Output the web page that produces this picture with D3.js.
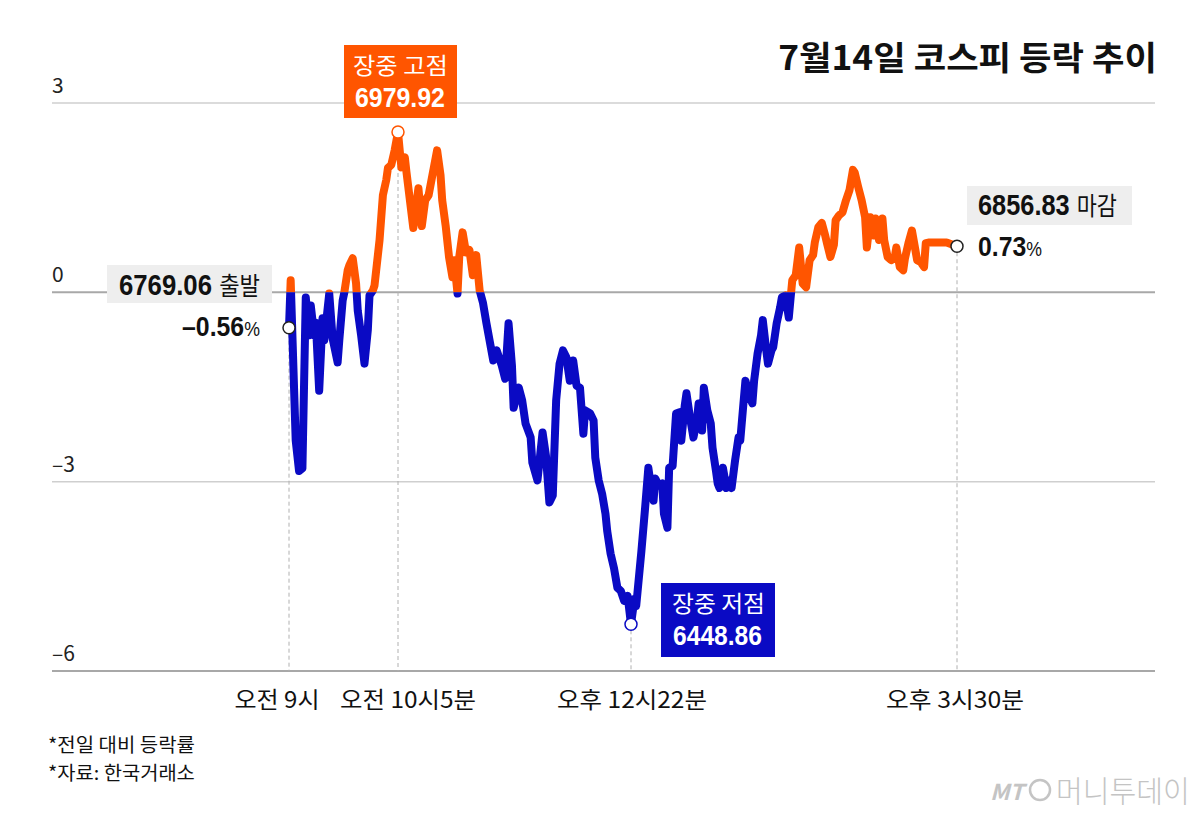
<!DOCTYPE html>
<html>
<head>
<meta charset="utf-8">
<title>7월14일 코스피 등락 추이</title>
<style>
  body, html {
    margin: 0;
    padding: 0;
    background: #fff;
  }
  svg text {
    font-family: "Noto Sans CJK KR", "Noto Sans", sans-serif;
  }
</style>
</head>
<body>
<svg id="chart" width="1204" height="814"></svg>

<script src="https://d3js.org/d3.v7.min.js"></script>
<script>
  // minutes since 09:00, change vs previous close (%)
  const minutes = [
    0, 1, 4, 6, 8, 10, 12, 13, 15, 16, 18, 20, 21, 24, 26, 29, 30, 32, 33, 35,
    36, 38, 40, 41, 43, 45, 47, 48, 50, 51, 54, 56, 58, 59, 61, 63, 65, 66, 67, 69,
    70, 72, 74, 77, 79, 81, 83, 88, 90, 91, 93, 95, 97, 98, 100, 101, 103, 105, 107, 109,
    111, 113, 115, 117, 121, 123, 126, 128, 130, 132, 133, 136, 138, 140, 143, 144, 147, 150, 152, 154,
    156, 158, 160, 162, 164, 166, 168, 170, 172, 174, 175, 178, 180, 181, 183, 185, 187, 188, 190, 192,
    194, 196, 198, 200, 202, 204, 205, 208, 210, 212, 213, 215, 216, 218, 220, 221, 223, 224, 226, 228,
    230, 231, 233, 234, 236, 238, 240, 241, 243, 244, 246, 248, 249, 251, 252, 253, 255, 257, 258, 260,
    262, 264, 265, 267, 268, 270, 272, 273, 275, 277, 278, 280, 281, 283, 284, 286, 288, 289, 291, 293,
    294, 295, 297, 299, 301, 303, 305, 307, 308, 310, 312, 314, 315, 317, 319, 320, 322, 324, 326, 328,
    330, 331, 333, 335, 337, 338, 340, 342, 343, 345, 347, 348, 350, 352, 354, 355, 357, 359, 360, 362,
    364, 366, 367, 369, 371, 372, 374, 379, 384, 390
  ]
  const change = [
    -0.56, 0.19, -2.35, -2.83, -2.79, -0.08, -0.68, -0.21, -0.68, -0.48, -1.56, -0.41, -0.76, -0.02, -0.73, -1.11, -0.76, -0.13, 0.00, 0.35,
    0.43, 0.54, 0.14, -0.29, -0.68, -1.13, -0.60, -0.05, 0.03, 0.11, 0.83, 1.54, 1.78, 1.97, 2.02, 2.25, 2.54, 2.25, 1.98, 2.14,
    1.90, 1.46, 1.02, 1.65, 1.05, 1.46, 1.54, 2.25, 1.86, 1.46, 1.06, 0.56, 0.24, 0.51, -0.02, 0.56, 0.95, 0.63, 0.67, 0.27,
    0.59, 0.03, -0.17, -0.49, -1.08, -0.92, -1.16, -1.37, -0.49, -1.16, -1.83, -1.51, -1.71, -2.08, -2.30, -2.70, -2.98, -2.22, -2.59, -3.33,
    -3.22, -1.71, -1.13, -0.92, -1.03, -1.40, -1.08, -1.48, -1.51, -2.24, -1.87, -1.92, -2.03, -2.62, -2.98, -3.19, -3.51, -3.78, -4.14, -4.37,
    -4.68, -4.73, -4.89, -4.81, -5.26, -4.86, -4.97, -4.10, -3.46, -2.78, -2.98, -3.30, -2.95, -3.06, -3.03, -3.51, -3.73, -2.78, -2.75, -1.92,
    -1.90, -2.35, -1.79, -1.60, -1.98, -2.30, -2.03, -1.76, -2.19, -1.51, -1.87, -2.08, -2.46, -2.83, -3.03, -3.10, -2.78, -3.10, -2.98, -3.10,
    -2.67, -2.30, -2.35, -1.71, -1.40, -1.63, -1.76, -1.40, -0.97, -0.68, -0.44, -0.92, -1.13, -0.92, -0.87, -0.49, -0.24, -0.08, -0.05, -0.40,
    -0.10, 0.19, 0.27, 0.71, 0.14, 0.08, 0.51, 0.59, 0.79, 1.03, 1.10, 0.90, 0.78, 0.56, 0.75, 1.14, 1.22, 1.27, 1.46, 1.62,
    1.94, 1.90, 1.67, 1.46, 1.19, 0.71, 1.19, 0.90, 1.17, 0.83, 1.17, 0.83, 0.56, 0.51, 0.54, 0.71, 0.40, 0.35, 0.54, 0.78,
    0.98, 0.67, 0.51, 0.48, 0.40, 0.78, 0.79, 0.79, 0.79, 0.73
  ]

  const yTicks = [3, 0, -3, -6]
  const xTickMinutes = [0, 65, 202, 390]
  const xTickLabels = ['오전 9시', '오전 10시5분', '오후 12시22분', '오후 3시30분']

  // marked points: open, intraday high, intraday low, close
  const markMinutes = [0, 65, 202, 390]
  const markChange = [-0.56, 2.54, -5.26, 0.73]
  const markIndex = ['6769.06', '6979.92', '6448.86', '6856.83']

  const notes = ['*전일 대비 등락률', '*자료: 한국거래소']

  const ORANGE = '#ff5500'
  const BLUE = '#0a0ac4'
  const NUM = '"Liberation Sans", Arial, sans-serif'

  const svg = d3.select('#chart')

  const x = d3.scaleLinear()
    .domain(xTickMinutes)
    .range([289, 398, 631, 957])

  const y = d3.scaleLinear()
    .domain([-6, 3])
    .range([671, 103])

  const data = minutes.map((m, i) => ({ m: m, v: change[i] }))
  const marks = markMinutes.map((m, i) => ({ m: m, v: markChange[i], idx: markIndex[i] }))

  // condensed text: [string, size, weight, family] parts, squeezed horizontally to a width
  function txt(g, px, py, parts, fill, width, anchor) {
    const t = g.append('text')
      .attr('x', 0)
      .attr('y', 0)
      .attr('fill', fill)
      .attr('text-anchor', anchor || 'start')
    parts.forEach(p => {
      const s = t.append('tspan')
        .attr('font-size', p[1])
        .attr('font-weight', p[2])
        .text(p[0])
      if (p[3]) s.style('font-family', p[3])
    })
    const k = width ? width / t.node().getComputedTextLength() : 1
    t.attr('transform', `translate(${px},${py}) scale(${k},1)`)
    return t
  }

  // gridlines ---------------------------------------------
  const grid = svg.append('g')
  grid.selectAll('line')
    .data(yTicks)
    .join('line')
    .attr('x1', 52)
    .attr('x2', 1155)
    .attr('y1', d => y(d))
    .attr('y2', d => y(d))
    .attr('stroke', d => (d === 0 || d === -6) ? '#a8a8a8' : '#cfcfcf')
    .attr('stroke-width', d => (d === 0 || d === -6) ? 2 : 1.5)

  grid.selectAll('text')
    .data(yTicks)
    .join('text')
    .attr('x', 52)
    .attr('y', d => y(d) - 10)
    .attr('font-size', 21)
    .attr('fill', '#222')
    .text(d => d < 0 ? '–' + Math.abs(d) : d)

  // dashed guides ---------------------------------------------
  svg.append('g')
    .selectAll('line')
    .data(marks)
    .join('line')
    .attr('x1', d => x(d.m))
    .attr('x2', d => x(d.m))
    .attr('y1', d => y(d.v) + 6)
    .attr('y2', y(-6))
    .attr('stroke', '#b0b0b0')
    .attr('stroke-width', 1)
    .attr('stroke-dasharray', '4,3')

  // line, split at zero ---------------------------------------------
  const defs = svg.append('defs')
  defs.append('clipPath').attr('id', 'clip-up')
    .append('rect')
    .attr('x', 0).attr('y', 0)
    .attr('width', 1204).attr('height', y(0))
  defs.append('clipPath').attr('id', 'clip-down')
    .append('rect')
    .attr('x', 0).attr('y', y(0))
    .attr('width', 1204).attr('height', 814 - y(0))

  const line = d3.line()
    .x(d => x(d.m))
    .y(d => y(d.v))

  ;[['clip-up', ORANGE], ['clip-down', BLUE]].forEach(([id, color]) => {
    svg.append('path')
      .datum(data)
      .attr('d', line)
      .attr('fill', 'none')
      .attr('stroke', color)
      .attr('stroke-width', 8)
      .attr('stroke-linejoin', 'round')
      .attr('stroke-linecap', 'round')
      .attr('clip-path', `url(#${id})`)
  })

  // markers ---------------------------------------------
  const markStroke = ['#222', ORANGE, BLUE, '#222']
  svg.append('g')
    .selectAll('circle')
    .data(marks)
    .join('circle')
    .attr('cx', d => x(d.m))
    .attr('cy', d => y(d.v))
    .attr('r', 6)
    .attr('fill', '#fff')
    .attr('stroke', (d, i) => markStroke[i])
    .attr('stroke-width', 1.5)

  const ann = svg.append('g')

  // open
  ann.append('rect').attr('x', 107).attr('y', 265).attr('width', 165).attr('height', 38).attr('fill', '#eeeeee')
  txt(ann, 119, 295, [[marks[0].idx + ' ', 29, 700, NUM], ['출발', 25, 400]], '#111', 141)
  txt(ann, 182, 336, [['–' + Math.abs(marks[0].v).toFixed(2), 28, 700, NUM], ['%', 20, 400, NUM]], '#111', 78)

  // high
  ann.append('rect').attr('x', 344).attr('y', 45).attr('width', 113).attr('height', 73).attr('fill', ORANGE)
  txt(ann, 353, 74, [['장중 고점', 23, 400]], '#fff', 95)
  txt(ann, 355, 107, [[marks[1].idx, 28, 700, NUM]], '#fff', 90)

  // low
  ann.append('rect').attr('x', 661).attr('y', 583).attr('width', 114).attr('height', 74).attr('fill', BLUE)
  txt(ann, 672, 612, [['장중 저점', 23, 400]], '#fff', 93)
  txt(ann, 673, 645, [[marks[2].idx, 28, 700, NUM]], '#fff', 89)

  // close
  ann.append('rect').attr('x', 967).attr('y', 186).attr('width', 165).attr('height', 39).attr('fill', '#eeeeee')
  txt(ann, 978, 215, [[marks[3].idx + ' ', 29, 700, NUM], ['마감', 25, 400]], '#111', 139)
  txt(ann, 978, 256, [[marks[3].v.toFixed(2), 28, 700, NUM], ['%', 20, 400, NUM]], '#111', 64)

  // x labels ---------------------------------------------
  const xLabelCenter = [277, 408, 632, 955]
  const xLabelWidth = [85, 136, 150, 138]
  const xl = svg.append('g')
  xTickLabels.forEach((s, i) => {
    txt(xl, xLabelCenter[i], 708, [[s, 23, 400]], '#111', xLabelWidth[i], 'middle')
  })

  // title ---------------------------------------------
  txt(svg, 1157, 70, [['7월14일 코스피 등락 추이', 33, 700]], '#111', 379, 'end')

  // notes ---------------------------------------------
  notes.forEach((s, i) => {
    txt(svg, 48, 752 + i * 28, [[s, 19, 400]], '#111', 147)
  })

  // watermark ---------------------------------------------
  const wm = svg.append('g')
  txt(wm, 990, 800, [['MT', 22, 700]], '#c4c4c4', 34).attr('font-style', 'italic')
  wm.append('circle').attr('cx', 1040).attr('cy', 790).attr('r', 10)
    .attr('fill', 'none').attr('stroke', '#c4c4c4').attr('stroke-width', 2.5)
  txt(wm, 1056, 802, [['머니투데이', 30, 300]], '#c4c4c4', 134)
</script>
</body>
</html>
